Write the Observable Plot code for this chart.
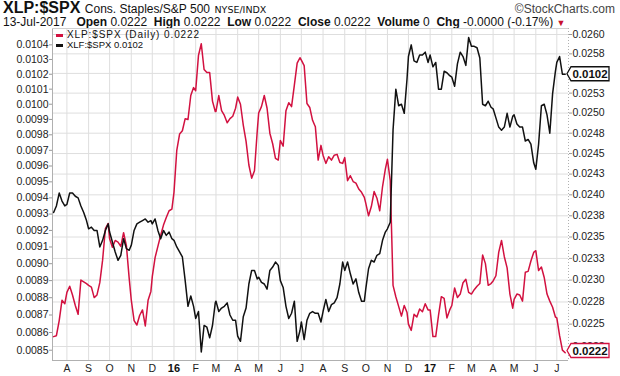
<!DOCTYPE html>
<html><head><meta charset="utf-8">
<script src="https://cdn.jsdelivr.net/npm/d3@7"></script>
<script src="https://cdn.jsdelivr.net/npm/@observablehq/plot@0.6"></script>
<style>
body{margin:0;background:#fff;font-family:"Liberation Sans",Arial,sans-serif;color:#111}
#wrap{position:relative;width:620px;height:376px;overflow:hidden;background:#fff}
#charts{position:absolute;left:0;top:27px;width:620px;height:349px}
#charts svg{position:absolute;left:0;top:0}
.hd{position:absolute;white-space:nowrap}
.b{font-weight:bold}
</style></head><body>
<div id="wrap">
  <div class="hd" style="left:3px;top:0px;line-height:16px">
    <span class="b" style="font-size:16px">XLP:$SPX</span>
    <span style="font-size:12px">Cons. Staples/S&amp;P 500</span>
    <span style="font-size:9.5px;font-family:'DejaVu Sans'">NYSE/INDX</span>
  </div>
  <div class="hd" style="right:5px;top:2px;font-size:12px;color:#444">&copy;StockCharts.com</div>
  <div class="hd" style="left:3px;top:17px;font-size:12px;line-height:11px">13-Jul-2017&nbsp;&nbsp;&nbsp;<span class="b">Open</span> 0.0222&nbsp;&nbsp;<span class="b">High</span> 0.0222&nbsp;&nbsp;<span class="b">Low</span> 0.0222&nbsp;&nbsp;<span class="b">Close</span> 0.0222&nbsp;&nbsp;<span class="b">Volume</span> 0&nbsp;&nbsp;<span class="b">Chg</span> -0.0000 (-0.17%) <span style="color:#c8102e;font-size:9px">&#9660;</span></div>
  <div id="charts"></div>
  <div class="hd" style="left:56px;top:30px;font-size:10px;line-height:10px;letter-spacing:0.9px"><span style="display:inline-block;width:7px;height:2.5px;background:#d21140;vertical-align:middle;margin-right:4px"></span>XLP:$SPX (Daily) 0.0222</div>
  <div class="hd" style="left:56px;top:40px;font-size:9.5px;line-height:10px"><span style="display:inline-block;width:7px;height:2.5px;background:#111;vertical-align:middle;margin-right:4px"></span>XLF:$SPX 0.0102</div>
</div>
<script>
// ---- data ----
const dates = [
"2015-07-13","2015-07-17","2015-07-21","2015-07-25","2015-07-29",
"2015-08-01","2015-08-05","2015-08-09","2015-08-13","2015-08-17","2015-08-21","2015-08-25","2015-08-29",
"2015-09-01","2015-09-05","2015-09-09","2015-09-13","2015-09-17","2015-09-21","2015-09-25","2015-09-29",
"2015-10-01","2015-10-05","2015-10-09","2015-10-13","2015-10-17","2015-10-21","2015-10-25","2015-10-29",
"2015-11-01","2015-11-05","2015-11-09","2015-11-13","2015-11-17","2015-11-21","2015-11-25","2015-11-29",
"2015-12-01","2015-12-05","2015-12-09","2015-12-13","2015-12-17","2015-12-21","2015-12-25","2015-12-29",
"2016-01-01","2016-01-05","2016-01-09","2016-01-13","2016-01-17","2016-01-21","2016-01-25","2016-01-29",
"2016-02-01","2016-02-05","2016-02-09","2016-02-13","2016-02-17","2016-02-21","2016-02-25","2016-02-29",
"2016-03-01","2016-03-05","2016-03-09","2016-03-13","2016-03-17","2016-03-21","2016-03-25","2016-03-29",
"2016-04-01","2016-04-05","2016-04-09","2016-04-13","2016-04-17","2016-04-21","2016-04-25","2016-04-29",
"2016-05-01","2016-05-05","2016-05-09","2016-05-13","2016-05-17","2016-05-21","2016-05-25","2016-05-29",
"2016-06-01","2016-06-05","2016-06-09","2016-06-13","2016-06-17","2016-06-21","2016-06-25","2016-06-29",
"2016-07-01","2016-07-05","2016-07-09","2016-07-13","2016-07-17","2016-07-21","2016-07-25","2016-07-29",
"2016-08-01","2016-08-05","2016-08-09","2016-08-13","2016-08-17","2016-08-21","2016-08-25","2016-08-29",
"2016-09-01","2016-09-05","2016-09-09","2016-09-13","2016-09-17","2016-09-21","2016-09-25","2016-09-29",
"2016-10-01","2016-10-05","2016-10-09","2016-10-13","2016-10-17","2016-10-21","2016-10-25","2016-10-29",
"2016-11-01","2016-11-05","2016-11-09","2016-11-13","2016-11-17","2016-11-21","2016-11-25","2016-11-29",
"2016-12-01","2016-12-05","2016-12-09","2016-12-13","2016-12-17","2016-12-21","2016-12-25","2016-12-29",
"2017-01-01","2017-01-05","2017-01-09","2017-01-13","2017-01-17","2017-01-21","2017-01-25","2017-01-29",
"2017-02-01","2017-02-05","2017-02-09","2017-02-13","2017-02-17","2017-02-21","2017-02-25",
"2017-03-01","2017-03-05","2017-03-09","2017-03-13","2017-03-17","2017-03-21","2017-03-25","2017-03-29",
"2017-04-01","2017-04-05","2017-04-09","2017-04-13","2017-04-17","2017-04-21","2017-04-25","2017-04-29",
"2017-05-01","2017-05-05","2017-05-09","2017-05-13","2017-05-17","2017-05-21","2017-05-25","2017-05-29",
"2017-06-01","2017-06-05","2017-06-09","2017-06-13","2017-06-17","2017-06-21","2017-06-25","2017-06-29",
"2017-07-01","2017-07-05","2017-07-09","2017-07-13"];

// XLP:$SPX (red, right axis)
const xlpValues = [
0.02236,0.02237,0.02254,0.02277,0.02273,
0.02286,0.02293,0.02283,0.02271,0.02261,0.02300,0.02298,0.02296,
0.02294,0.02292,0.02280,0.02283,0.02297,0.02323,0.02360,0.02366,
0.02348,0.02338,0.02346,0.02344,0.02339,0.02355,0.02340,0.02302,
0.02277,0.02254,0.02249,0.02260,0.02266,0.02248,0.02277,0.02287,
0.02304,0.02326,0.02339,0.02352,0.02364,0.02373,0.02381,0.02383,
0.02403,0.02454,0.02474,0.02478,0.02493,0.02492,0.02522,0.02532,
0.02528,0.02573,0.02588,0.02555,0.02551,0.02551,0.02515,0.02502,
0.02502,0.02522,0.02503,0.02497,0.02488,0.02493,0.02496,0.02506,
0.02520,0.02511,0.02485,0.02465,0.02436,0.02420,0.02429,0.02478,
0.02500,0.02508,0.02522,0.02506,0.02475,0.02462,0.02444,0.02442,
0.02466,0.02459,0.02503,0.02513,0.02508,0.02535,0.02563,0.02570,
0.02567,0.02560,0.02512,0.02507,0.02491,0.02483,0.02442,0.02460,
0.02448,0.02438,0.02446,0.02442,0.02448,0.02449,0.02439,0.02438,
0.02445,0.02417,0.02423,0.02416,0.02414,0.02407,0.02403,0.02397,
0.02390,0.02375,0.02386,0.02404,0.02396,0.02381,0.02410,0.02431,
0.02443,0.02417,0.02294,0.02281,0.02270,0.02259,0.02271,0.02263,
0.02250,0.02243,0.02261,0.02258,0.02267,0.02264,0.02273,0.02266,
0.02266,0.02236,0.02236,0.02260,0.02281,0.02279,0.02257,0.02266,
0.02271,0.02291,0.02280,0.02284,0.02297,0.02301,0.02286,
0.02284,0.02289,0.02293,0.02296,0.02329,0.02319,0.02294,0.02296,
0.02299,0.02305,0.02332,0.02346,0.02327,0.02314,0.02284,0.02268,
0.02278,0.02284,0.02283,0.02276,0.02309,0.02310,0.02322,0.02332,
0.02334,0.02311,0.02315,0.02303,0.02284,0.02276,0.02269,0.02258,
0.02257,0.02237,0.02221,0.02218];

// XLF:$SPX (black, left axis)
const xlfValues = [
0.00931,0.00935,0.00943,0.00938,0.00935,
0.00936,0.00943,0.00943,0.00941,0.00940,0.00935,0.00931,0.00926,
0.00921,0.00922,0.00920,0.00920,0.00910,0.00914,0.00920,0.00924,
0.00919,0.00913,0.00907,0.00902,0.00905,0.00915,0.00909,0.00908,
0.00911,0.00920,0.00924,0.00925,0.00926,0.00927,0.00925,0.00926,
0.00924,0.00927,0.00920,0.00915,0.00920,0.00917,0.00919,0.00915,
0.00914,0.00910,0.00907,0.00904,0.00890,0.00875,0.00881,0.00875,
0.00868,0.00872,0.00849,0.00864,0.00863,0.00857,0.00864,0.00877,
0.00878,0.00872,0.00874,0.00875,0.00877,0.00870,0.00867,0.00867,
0.00858,0.00855,0.00869,0.00874,0.00888,0.00896,0.00896,0.00891,
0.00892,0.00889,0.00888,0.00885,0.00896,0.00898,0.00901,0.00899,
0.00890,0.00886,0.00875,0.00868,0.00871,0.00878,0.00855,0.00861,
0.00866,0.00856,0.00867,0.00871,0.00872,0.00871,0.00871,0.00866,
0.00872,0.00879,0.00872,0.00876,0.00877,0.00880,0.00888,0.00901,
0.00896,0.00901,0.00894,0.00888,0.00891,0.00883,0.00878,0.00878,
0.00885,0.00897,0.00902,0.00901,0.00905,0.00906,0.00914,0.00919,
0.00921,0.00925,0.00983,0.01010,0.00999,0.01000,0.00994,0.01017,
0.01032,0.01040,0.01029,0.01028,0.01033,0.01033,0.01035,0.01028,
0.01033,0.01025,0.01028,0.01010,0.01010,0.01022,0.01021,0.01019,
0.01018,0.01012,0.01027,0.01035,0.01032,0.01026,0.01045,
0.01039,0.01039,0.01038,0.01031,0.01000,0.00999,0.01002,0.00998,
0.00997,0.00991,0.00985,0.00983,0.00985,0.00994,0.00985,0.00992,
0.00993,0.00987,0.00985,0.00985,0.00976,0.00977,0.00974,0.00962,
0.00958,0.00974,0.00999,0.01000,0.00993,0.00981,0.01007,0.01022,
0.01028,0.01032,0.01020,0.01020];

const monthStarts = ["2015-08-01","2015-09-01","2015-10-01","2015-11-01","2015-12-01","2016-01-01","2016-02-01","2016-03-01","2016-04-01","2016-05-01","2016-06-01","2016-07-01","2016-08-01","2016-09-01","2016-10-01","2016-11-01","2016-12-01","2017-01-01","2017-02-01","2017-03-01","2017-04-01","2017-05-01","2017-06-01","2017-07-01"];
const monthLabels = ["A","S","O","N","D","16","F","M","A","M","J","J","A","S","O","N","D","17","F","M","A","M","J","J"];

const leftTicks = [0.0085,0.0086,0.0087,0.0088,0.0089,0.0090,0.0091,0.0092,0.0093,0.0094,0.0095,0.0096,0.0097,0.0098,0.0099,0.0100,0.0101,0.0102,0.0103,0.0104];
const leftTickLabels = ["0.0085","0.0086","0.0087","0.0088","0.0089","0.0090","0.0091","0.0092","0.0093","0.0094","0.0095","0.0096","0.0097","0.0098","0.0099","0.0100","0.0101","0.0102","0.0103","0.0104"];
const rightTicks = [0.02225,0.0225,0.02275,0.023,0.02325,0.0235,0.02375,0.024,0.02425,0.0245,0.02475,0.025,0.02525,0.0255,0.02575,0.026];
const rightTickLabels = ["0.0223","0.0225","0.0228","0.0230","0.0233","0.0235","0.0238","0.0240","0.0243","0.0245","0.0248","0.0250","0.0253","0.0255","0.0258","0.0260"];

const lastXlp = 0.0222, lastXlf = 0.0102;

// ---- build ----
const data = dates.map((d, i) => ({date: new Date(d), xlp: xlpValues[i], xlf: xlfValues[i]}));
const mDates = monthStarts.map(d => new Date(d));
const mLabel = new Map(mDates.map((d, i) => [+d, monthLabels[i]]));
const lLabel = new Map(leftTicks.map((d, i) => [d, leftTickLabels[i]]));
const rLabel = new Map(rightTicks.map((d, i) => [d, rightTickLabels[i]]));
const isYear = d => d.getUTCMonth() === 0;

const xDomain = [new Date("2015-07-11T10:00:00Z"), new Date("2017-07-17T17:00:00Z")];
const yRedDomain = [0.022095, 0.026078];
const yBlackDomain = [0.0084424, 0.010513];
const RED = "#d21140";
const font = "'Liberation Sans', Arial, sans-serif";

const common = {
  width: 620, height: 349,
  marginLeft: 52, marginRight: 52, marginTop: 1, marginBottom: 16,
  style: {fontFamily: font, fontSize: "10.5px", color: "#222", background: "none", overflow: "visible"}
};

const p1 = Plot.plot({
  ...common,
  x: {type: "utc", domain: xDomain},
  y: {type: "log", domain: yRedDomain},
  marks: [
    Plot.gridX(mDates, {stroke: "#dedede", strokeOpacity: 1}),
    Plot.gridY(rightTicks, {stroke: "#dedede", strokeOpacity: 1}),
    Plot.ruleX([xDomain[0]], {stroke: "#b0b0b0"}),
    Plot.ruleX([xDomain[1]], {stroke: "#b0b0b0", strokeDasharray: "1,2"}),
    Plot.ruleY([yRedDomain[0]], {stroke: "#b0b0b0"}),
    Plot.ruleY([yRedDomain[1]], {stroke: "#d0d0d0"}),
    Plot.line(data, {x: "date", y: "xlp", stroke: RED, strokeWidth: 1.5}),
    Plot.axisY(rightTicks, {anchor: "right", label: null, tickSize: 3, tickPadding: 1, stroke: "#999", fill: "#222", fontSize: 10.5, tickFormat: d => rLabel.get(d)}),
    Plot.axisX(mDates.filter(d => !isYear(d)), {label: null, tickSize: 0, tickPadding: 4, fill: "#222", fontSize: 10.5, tickFormat: d => mLabel.get(+d)}),
    Plot.axisX(mDates.filter(isYear), {label: null, tickSize: 0, tickPadding: 4, fill: "#111", fontSize: 11, fontWeight: "bold", tickFormat: d => mLabel.get(+d)})
  ]
});

const p2 = Plot.plot({
  ...common,
  x: {type: "utc", domain: xDomain, axis: null},
  y: {type: "log", domain: yBlackDomain},
  marks: [
    Plot.line(data, {x: "date", y: "xlf", stroke: "#111", strokeWidth: 1.5}),
    Plot.axisY(leftTicks, {anchor: "left", label: null, tickSize: 3, tickPadding: 1, stroke: "#999", fill: "#222", fontSize: 10.5, tickFormat: d => lLabel.get(d)})
  ]
});

const host = document.getElementById("charts");
host.appendChild(p1);
host.appendChild(p2);

// last-value tags on the right axis
function tag(svg, y, label, color) {
  const g = d3.select(svg).append("g");
  const x0 = 567, x1 = 571, x2 = 609, h = 7;
  g.append("path")
    .attr("d", `M${x0},${y}L${x1},${y - h}L${x2},${y - h}L${x2},${y + h}L${x1},${y + h}Z`)
    .attr("fill", "#fff").attr("stroke", color).attr("stroke-width", 1.3);
  g.append("text").attr("x", (x1 + x2) / 2).attr("y", y + 4)
    .attr("text-anchor", "middle").attr("font-family", font)
    .attr("font-size", 11.5).attr("font-weight", "bold").attr("fill", "#111").text(label);
}
tag(p2, p2.scale("y").apply(lastXlf), d3.format(".4f")(lastXlf), "#111");
tag(p2, p1.scale("y").apply(lastXlp), d3.format(".4f")(lastXlp), RED);
</script>
</body></html>
